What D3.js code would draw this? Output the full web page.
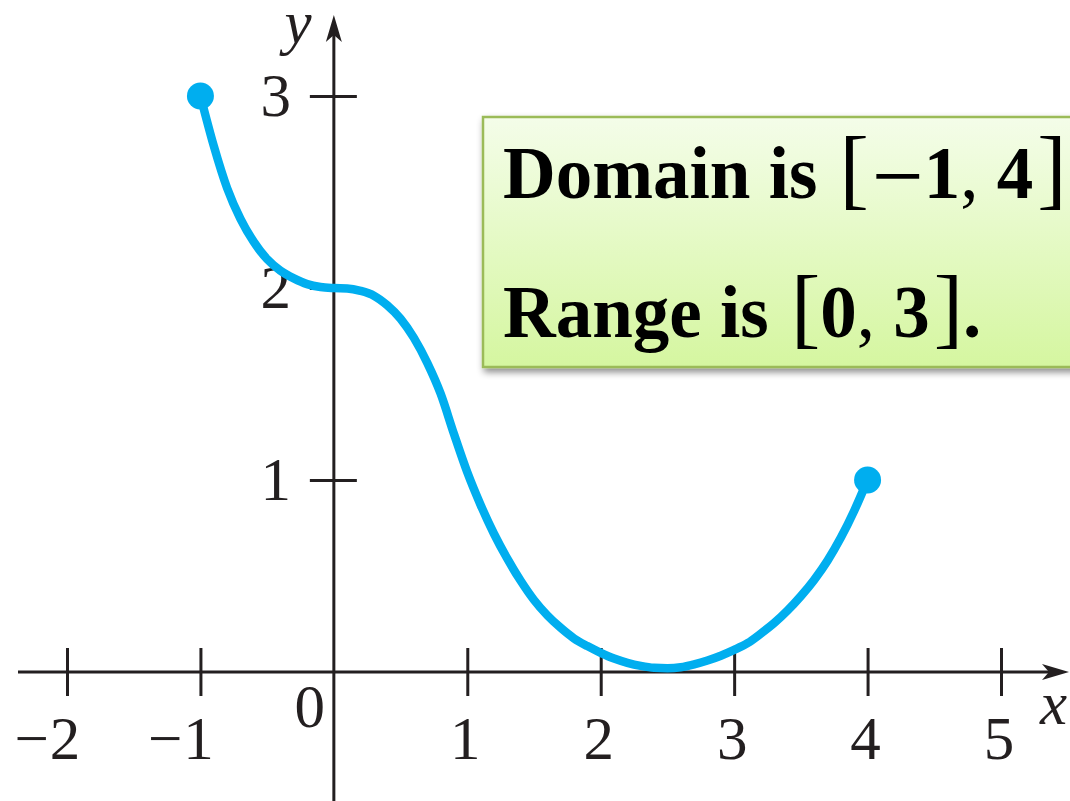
<!DOCTYPE html>
<html>
<head>
<meta charset="utf-8">
<script src="https://cdn.jsdelivr.net/npm/d3@7/dist/d3.min.js"></script>
<style>
  html, body { margin: 0; padding: 0; background: #fff; }
  svg { display: block; }
</style>
</head>
<body>
<svg id="chart" width="1070" height="801"></svg>
<script>
// ---- data ----
const curveX = [-1, -0.9, -0.8, -0.7, -0.6, -0.5, -0.4, -0.3, -0.2, -0.1, 0,
  0.1, 0.2, 0.3, 0.4, 0.5, 0.6, 0.7, 0.8, 0.9, 1.0,
  1.1, 1.2, 1.3, 1.4, 1.5, 1.6, 1.7, 1.8, 1.9, 2.0,
  2.1, 2.2, 2.3, 2.4, 2.5, 2.6, 2.7, 2.8, 2.9, 3.0,
  3.1, 3.2, 3.3, 3.4, 3.5, 3.6, 3.7, 3.8, 3.9, 4.0];
const curveY = [3, 2.74, 2.52, 2.36, 2.24, 2.15, 2.09, 2.05, 2.02, 2.005, 2,
  1.998, 1.985, 1.96, 1.91, 1.84, 1.74, 1.61, 1.45, 1.24, 1.04,
  0.87, 0.72, 0.59, 0.475, 0.375, 0.295, 0.23, 0.175, 0.135, 0.1,
  0.07, 0.048, 0.032, 0.022, 0.02, 0.025, 0.04, 0.06, 0.085, 0.115,
  0.15, 0.2, 0.255, 0.32, 0.395, 0.48, 0.58, 0.70, 0.84, 1.0];
const endpointsX = [-1, 4];
const endpointsY = [3, 1];
const xTicks = [-2, -1, 1, 2, 3, 4, 5];
const yTicks = [1, 2, 3];
const line1Parts = [
  {t: "Domain is ", kind: "word"},
  {t: "[", kind: "br"},
  {t: "\u2212", kind: "minus"},
  {t: "1", kind: "numAfterMinus"},
  {t: ", ", kind: "punc"},
  {t: "4", kind: "num"},
  {t: "]", kind: "br"}
];
const line2Parts = [
  {t: "Range is ", kind: "word"},
  {t: "[", kind: "br"},
  {t: "0", kind: "num"},
  {t: ", ", kind: "punc"},
  {t: "3", kind: "num"},
  {t: "]", kind: "br"},
  {t: ".", kind: "word"}
];

// ---- scales ----
const x = d3.scaleLinear().domain([-2, 5]).range([67, 1001]);
const y = d3.scaleLinear().domain([0, 3]).range([672, 96]);

const svg = d3.select("#chart");
const ink = "#231f20";
const blue = "#00aeef";
const serif = "'Liberation Serif', 'Times New Roman', serif";

const defs = svg.append("defs");
const grad = defs.append("linearGradient").attr("id", "boxGrad")
  .attr("x1", 0).attr("y1", 0).attr("x2", 0).attr("y2", 1);
grad.append("stop").attr("offset", "0%").attr("stop-color", "#f4fde9");
grad.append("stop").attr("offset", "100%").attr("stop-color", "#d5f6a0");
const filt = defs.append("filter").attr("id", "shadow")
  .attr("x", "-10%").attr("y", "-10%").attr("width", "130%").attr("height", "140%");
filt.append("feDropShadow").attr("dx", 2).attr("dy", 4).attr("stdDeviation", 3.5)
  .attr("flood-color", "#000").attr("flood-opacity", 0.45);

// ---- axes ----
const axX = d3.axisBottom(x).tickValues(xTicks).tickSize(0).tickFormat("");
const gX = svg.append("g").attr("transform", `translate(0,${y(0)})`).call(axX);
gX.select(".domain").remove();
gX.selectAll(".tick line").remove();
gX.selectAll(".tick").append("line")
  .attr("y1", -24).attr("y2", 24)
  .attr("stroke", ink).attr("stroke-width", 3);

const axY = d3.axisLeft(y).tickValues(yTicks).tickSize(0).tickFormat("");
const gY = svg.append("g").attr("transform", `translate(${x(0)},0)`).call(axY);
gY.select(".domain").remove();
gY.selectAll(".tick line").remove();
gY.selectAll(".tick").append("line")
  .attr("x1", -24).attr("x2", 23)
  .attr("stroke", ink).attr("stroke-width", 3);

// axis lines
svg.append("line").attr("x1", 18).attr("x2", 1050).attr("y1", y(0)).attr("y2", y(0))
  .attr("stroke", ink).attr("stroke-width", 3);
svg.append("line").attr("x1", x(0)).attr("x2", x(0)).attr("y1", 801).attr("y2", 32)
  .attr("stroke", ink).attr("stroke-width", 3);
// arrowheads
const tipX = 1069, tipY = 15;
svg.append("path")
  .attr("d", `M${tipX},${y(0)} L${tipX - 27},${y(0) - 8} L${tipX - 20},${y(0)} L${tipX - 27},${y(0) + 8} Z`)
  .attr("fill", ink);
svg.append("path")
  .attr("d", `M${x(0)},${tipY} L${x(0) - 8},${tipY + 27} L${x(0)},${tipY + 20} L${x(0) + 8},${tipY + 27} Z`)
  .attr("fill", ink);

// tick labels
const lab = svg.append("g").attr("font-family", serif).attr("font-size", 61).attr("fill", ink);
xTicks.forEach(v => {
  const digit = String(Math.abs(v));
  lab.append("text").attr("x", x(v) - 2).attr("y", 759).attr("text-anchor", "middle").text(digit);
  if (v < 0) {
    lab.append("text").attr("x", x(v) - 18).attr("y", 759).attr("text-anchor", "end").text("\u2212");
  }
});
lab.append("text").attr("x", x(0) - 24).attr("y", 727).attr("text-anchor", "middle").text("0");
yTicks.forEach(v => {
  lab.append("text").attr("x", 291).attr("y", y(v) + 20).attr("text-anchor", "end").text(String(v));
});
lab.append("text").attr("x", 298).attr("y", 43).attr("text-anchor", "middle")
  .attr("font-style", "italic").text("y");
lab.append("text").attr("x", 1040).attr("y", 724).attr("text-anchor", "start")
  .attr("font-style", "italic").text("x");

// ---- curve ----
const pts = curveX.map((d, i) => [d, curveY[i]]);
const lineGen = d3.line().x(d => x(d[0])).y(d => y(d[1])).curve(d3.curveMonotoneX);
svg.append("path").datum(pts).attr("d", lineGen)
  .attr("fill", "none").attr("stroke", blue).attr("stroke-width", 8.5)
  .attr("stroke-linecap", "round").attr("stroke-linejoin", "round");
svg.selectAll("circle.end").data(endpointsX).enter().append("circle")
  .attr("class", "end")
  .attr("cx", d => x(d)).attr("cy", (d, i) => y(endpointsY[i])).attr("r", 13.5)
  .attr("fill", blue);

// ---- annotation box ----
svg.append("rect").attr("x", 483).attr("y", 117).attr("width", 620).attr("height", 250)
  .attr("fill", "url(#boxGrad)").attr("stroke", "#9bbb59").attr("stroke-width", 2.5)
  .attr("filter", "url(#shadow)");

function writeLine(parts, yy) {
  const t = svg.append("text").attr("x", 503).attr("y", yy)
    .attr("font-family", serif).attr("fill", "#000");
  parts.forEach(p => {
    const ts = t.append("tspan").text(p.t);
    if (p.kind === "word" || p.kind === "num") ts.attr("font-weight", "bold").attr("font-size", 73);
    else if (p.kind === "numAfterMinus") ts.attr("font-weight", "bold").attr("font-size", 73).attr("dy", -9);
    else if (p.kind === "br") ts.attr("font-weight", "normal").attr("font-size", 88).attr("dx", 4);
    else if (p.kind === "minus") ts.attr("font-weight", "normal").attr("font-size", 92).attr("dx", 3).attr("dy", 9);
    else ts.attr("font-weight", "normal").attr("font-size", 73);
  });
}
writeLine(line1Parts, 198);
writeLine(line2Parts, 337);
</script>
</body>
</html>
